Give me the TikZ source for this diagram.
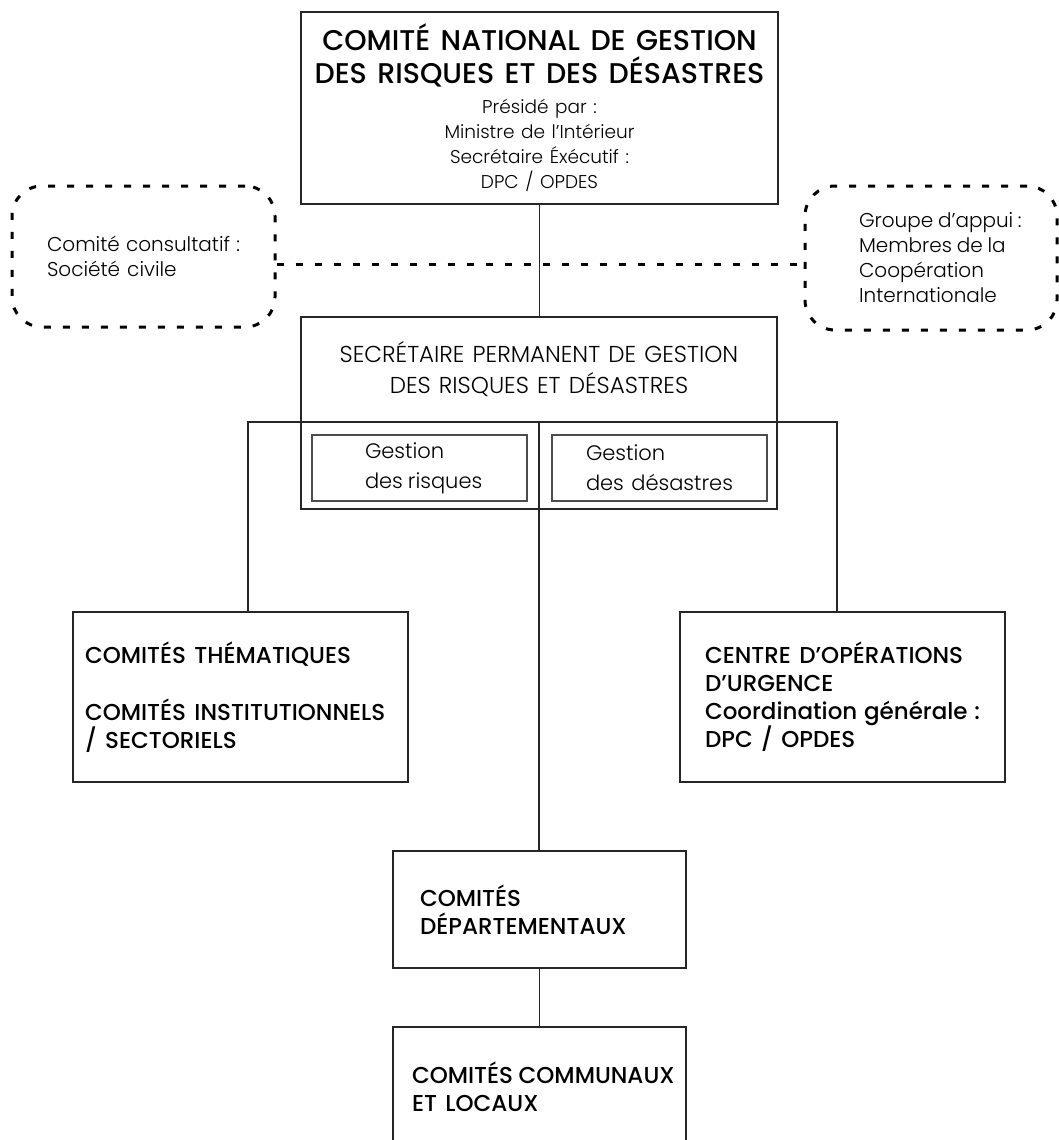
\documentclass[tikz,border=0pt]{standalone}
\usepackage{fontspec}
\setmainfont{Poppins}
\newfontfamily\lightfont{Poppins Light}[WordSpace=1.3]
\newfontfamily\medfont{Poppins Medium}[WordSpace=1.4]
\hyphenpenalty=10000

\begin{document}
\begin{tikzpicture}[x=1pt,y=-1pt]
\tikzset{
box/.style={ rectangle , draw=black!85 , line width=1.3pt ,
inner sep=0pt , align=flush left },
dotbox/.style={ rectangle , rounded corners=30pt , draw=black ,
line width=3pt , dash pattern=on 7pt off 12pt , align=flush left },
inbox/.style={ rectangle , draw=black!70 , line width=2pt ,
minimum width=215pt , minimum height=66pt , inner sep=0pt , align=flush left },
headtxt/.style={ font=\medfont\fontsize{23}{28}\selectfont },
litetxt/.style={ font=\lightfont\fontsize{20}{25}\selectfont },
link/.style={ draw=black!85 , line width=1.3pt },
dashlink/.style={ line width=3pt , dash pattern=on 7pt off 12pt }
}
\useasboundingbox (0,0) rectangle (1058,1140);

\node[box, minimum width=477pt, minimum height=192pt, text width=457pt, align=flush center] (cnat) at (539.5,108)
{{\medfont\fontsize{28.5}{33}\selectfont COMITÉ NATIONAL DE GESTION\\DES RISQUES ET DES DÉSASTRES\par}
\vspace{5pt}
{\lightfont\fontsize{18.5}{25}\selectfont Présidé par :\\Ministre de l’Intérieur\\Secrétaire Éxécutif :\\DPC / OPDES\par}};

\node[dotbox, litetxt, minimum width=263pt, minimum height=141pt, text width=193pt, inner xsep=35pt] (consult) at (143.5,256.5)
{Comité~consultatif~:\\Société~civile};
\node[dotbox, litetxt, minimum width=252pt, minimum height=144pt, text width=144pt, inner xsep=54pt] (appui) at (931,258)
{Groupe~d’appui~:\\Membres~de~la\\Coopération\\Internationale};

\node[box, minimum width=476pt, minimum height=192pt] (sec) at (539,413) {};
\node[font=\lightfont\fontsize{23}{31}\selectfont, align=center] (sectitle) at (539,369)
{SECRÉTAIRE PERMANENT DE GESTION\\DES RISQUES ET DÉSASTRES};
\node[inbox, font=\lightfont\fontsize{21}{30}\selectfont, text width=109pt, inner xsep=53pt] (risques) at (419.5,468)
{Gestion\\des~risques};
\node[inbox, font=\lightfont\fontsize{21}{30}\selectfont, text width=147pt, inner xsep=34pt] (desastres) at (659.5,468)
{Gestion\\des~désastres};

\node[box, headtxt, minimum width=335pt, minimum height=170pt, text width=311pt, inner xsep=12pt] (thema) at (240.5,697)
{COMITÉS~THÉMATIQUES\\[29pt]COMITÉS~INSTITUTIONNELS\\/~SECTORIELS};
\node[box, headtxt, minimum width=325pt, minimum height=170pt, text width=275pt, inner xsep=25pt] (urgence) at (842.5,697)
{CENTRE~D’OPÉRATIONS\\D’URGENCE\\Coordination~générale~:\\DPC~/~OPDES};
\node[box, headtxt, minimum width=293pt, minimum height=117pt, text width=239pt, inner xsep=27pt] (dept) at (539.5,909.5)
{COMITÉS\\DÉPARTEMENTAUX};
\node[box, headtxt, minimum width=293pt, minimum height=120pt, text width=255pt, inner xsep=19pt] (commun) at (539.5,1087)
{COMITÉS~COMMUNAUX\\ET~LOCAUX};

\coordinate (bar) at (539,422);
\draw[dashlink] ([yshift=-8pt]consult.east) -- ([yshift=-8pt]consult.east -| appui.west);
\draw[link] (cnat.south) -- (cnat.south |- sec.north);
\draw[link] ([xshift=7.5pt]thema.north) |- (bar) -| ([xshift=-5.5pt]urgence.north);
\draw[link] (bar) -- (bar |- dept.north);
\draw[link] (dept.south) -- (commun.north);

\end{tikzpicture}
\end{document}
